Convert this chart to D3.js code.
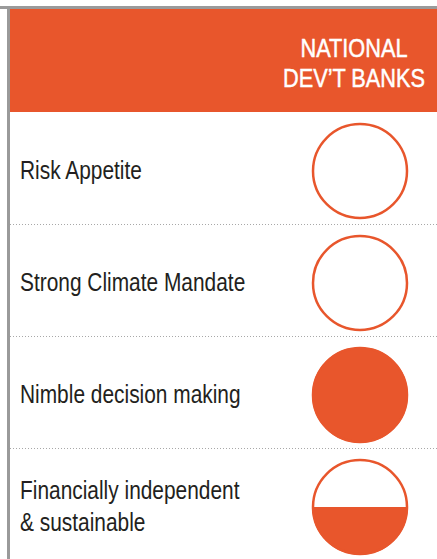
<!DOCTYPE html>
<meta charset="utf-8">
<style>
  body { margin: 0; background: #fff; }
  svg text { font-family: "Liberation Sans", Arial, sans-serif; }
</style>
<body>
<div id="chart"></div>
<script src="https://d3js.org/d3.v7.min.js"></script>
<script>
// chart data
var columnTitle = ["NATIONAL", "DEV\u2019T BANKS"];
var criteria = [
  ["Risk Appetite"],
  ["Strong Climate Mandate"],
  ["Nimble decision making"],
  ["Financially independent", "& sustainable"]
];
var fillShare = [0, 0, 1, 0.5]; // 0 = empty circle, 1 = full, 0.5 = half

var width = 437, height = 559;
var orange = "#e8562c";
var narrow = 0.82; // squeeze text to look like a condensed face

var svg = d3.select("#chart").append("svg")
    .attr("width", width)
    .attr("height", height);

// grey frame, top and left
svg.append("rect").attr("x", 0).attr("y", 6).attr("width", width).attr("height", 3).attr("fill", "#9a9a9a");
svg.append("rect").attr("x", 7).attr("y", 6).attr("width", 3).attr("height", height).attr("fill", "#9a9a9a");

// header band
svg.append("rect")
    .attr("x", 10).attr("y", 9)
    .attr("width", width - 10).attr("height", 103)
    .attr("fill", orange);

svg.append("g")
    .attr("transform", "scale(" + narrow + ",1)")
  .selectAll("text")
    .data(columnTitle)
  .enter().append("text")
    .attr("x", 354 / narrow)
    .attr("y", function(d, i) { return 57 + i * 30; })
    .attr("text-anchor", "middle")
    .attr("fill", "#fff")
    .attr("stroke", "#fff")
    .attr("stroke-width", 0.5)
    .attr("font-size", 26.5)
    .text(function(d) { return d; });

// rows
var y = d3.scaleBand()
    .domain(d3.range(criteria.length))
    .range([112, 560]);

var r = 47;

// dotted separators
svg.append("g").selectAll("line")
    .data(d3.range(1, criteria.length))
  .enter().append("line")
    .attr("x1", 10).attr("x2", width)
    .attr("y1", function(d) { return y(d) + 0.5; })
    .attr("y2", function(d) { return y(d) + 0.5; })
    .attr("stroke", "#a8a8a8")
    .attr("stroke-width", 1)
    .attr("stroke-dasharray", "1,2");

var row = svg.append("g").selectAll("g")
    .data(criteria)
  .enter().append("g")
    .attr("transform", function(d, i) { return "translate(0," + (y(i) + y.bandwidth() / 2) + ")"; });

row.each(function(lines) {
  d3.select(this).append("g")
      .attr("transform", "scale(" + narrow + ",1)")
    .selectAll("text")
      .data(lines)
    .enter().append("text")
      .attr("x", 20 / narrow)
      .attr("y", function(d, i) { return 11 + (i - (lines.length - 1) / 2) * 32; })
      .attr("fill", "#231f20")
      .attr("font-size", 25.5)
      .text(function(d) { return d; });
});

// circles with partial fill from the bottom
var cx = 360;
row.each(function(lines, i) {
  var g = d3.select(this);
  var share = fillShare[i];
  if (share > 0) {
    var id = "clip" + i;
    g.append("clipPath").attr("id", id)
      .append("rect")
        .attr("x", cx - r - 2)
        .attr("y", 3 + r - 2 * r * share)
        .attr("width", 2 * r + 4)
        .attr("height", 2 * r * share + 2);
    g.append("circle")
        .attr("cx", cx).attr("cy", 3)
        .attr("r", r + 1)
        .attr("fill", orange)
        .attr("clip-path", "url(#" + id + ")");
  }
  g.append("circle")
      .attr("cx", cx).attr("cy", 3)
      .attr("r", r)
      .attr("fill", "none")
      .attr("stroke", orange)
      .attr("stroke-width", 2.5);
});
</script>
</body>
